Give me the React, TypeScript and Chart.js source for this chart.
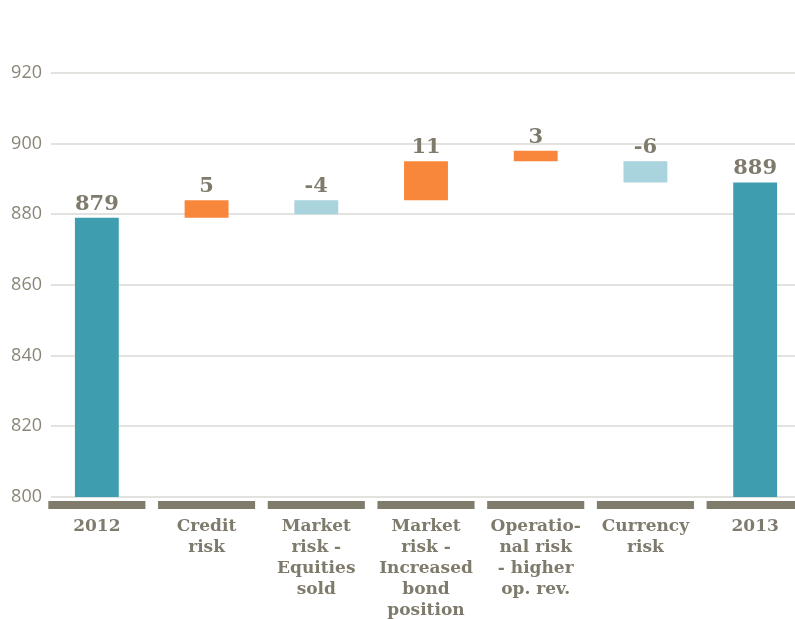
import React, { useEffect, useRef } from "react";
import { Chart, registerables } from "chart.js";

Chart.register(...registerables);

const categories: string[][] = [
  ["2012"],
  ["Credit", "risk"],
  ["Market", "risk -", "Equities", "sold"],
  ["Market", "risk -", "Increased", "bond", "position"],
  ["Operatio-", "nal risk", "- higher", "op. rev."],
  ["Currency", "risk"],
  ["2013"],
];
const barStart = [800, 879, 880, 884, 895, 889, 800];
const barEnd = [879, 884, 884, 895, 898, 895, 889];
const valueLabels = ["879", "5", "-4", "11", "3", "-6", "889"];
const barColors = ["#3f9db0", "#f8873b", "#a9d3dd", "#f8873b", "#f8873b", "#a9d3dd", "#3f9db0"];
const yMin = 800;
const yMax = 920;
const yStep = 20;

const TEXT = "#7f7b6c";

const gridPlugin = {
  id: "customGrid",
  beforeDatasetsDraw(chart: any) {
    const { ctx, chartArea, scales } = chart;
    const y = scales.y;
    ctx.save();
    ctx.strokeStyle = "#d9d8d4";
    ctx.lineWidth = 1.5;
    y.ticks.forEach((t: any) => {
      const py = Math.round(y.getPixelForValue(t.value));
      ctx.beginPath();
      ctx.moveTo(chartArea.left + 9, py);
      ctx.lineTo(chart.width, py);
      ctx.stroke();
    });
    ctx.restore();
  },
};

const decoPlugin = {
  id: "deco",
  afterDatasetsDraw(chart: any) {
    const { ctx, chartArea, scales } = chart;
    const x = scales.x;
    const catW = chartArea.width / categories.length;
    ctx.save();
    // grey category bars under the axis
    ctx.fillStyle = "#807c6c";
    categories.forEach((_, i) => {
      const cx = x.getPixelForValue(i);
      const w = catW * 0.885;
      ctx.fillRect(cx - w / 2, chartArea.bottom + 4, w, 8);
    });
    // value labels
    const meta = chart.getDatasetMeta(0);
    ctx.fillStyle = TEXT;
    ctx.font = "bold 21px 'DejaVu Serif'";
    ctx.textAlign = "center";
    ctx.textBaseline = "bottom";
    meta.data.forEach((el: any, i: number) => {
      const top = Math.min(el.y, el.base);
      ctx.fillText(valueLabels[i], el.x, top - 3);
    });
    ctx.restore();
  },
};

export default function App() {
  const ref = useRef<HTMLCanvasElement>(null);
  useEffect(() => {
    if (!ref.current) return;
    const chart = new Chart(ref.current, {
      type: "bar",
      data: {
        labels: categories as any,
        datasets: [
          {
            data: barStart.map((s, i) => [s, barEnd[i]]) as any,
            backgroundColor: barColors,
            borderWidth: 0,
            barPercentage: 0.4,
            categoryPercentage: 1,
          },
        ],
      },
      options: {
        responsive: false,
        animation: false,
        layout: { padding: { top: 73, left: 0, right: 0, bottom: 0 } },
        plugins: {
          legend: { display: false },
          tooltip: { enabled: false },
        },
        scales: {
          x: {
            grid: { display: false, drawTicks: false },
            border: { display: false },
            afterFit: (s: any) => {
              s.height = 122;
            },
            ticks: {
              color: TEXT,
              padding: 19,
              maxRotation: 0,
              autoSkip: false,
              font: { family: "'DejaVu Serif'", weight: "bold", size: 17, lineHeight: 1.24 },
            },
          },
          y: {
            min: yMin,
            max: yMax,
            grid: { display: false, drawTicks: false },
            border: { display: false },
            afterFit: (s: any) => {
              s.width = 42;
            },
            ticks: {
              stepSize: yStep,
              color: "#8a8676",
              padding: 0,
              font: { family: "'Open Sans'", size: 18 },
            },
          },
        },
      },
      plugins: [gridPlugin, decoPlugin],
    });
    return () => chart.destroy();
  }, []);
  return (
    <div
      style={{
        position: "fixed",
        left: 0,
        top: 0,
        width: 795,
        height: 619,
        overflow: "hidden",
        background: "#fff",
      }}
    >
      <canvas ref={ref} width={810} height={619} style={{ display: "block", width: 810, height: 619 }} />
    </div>
  );
}
